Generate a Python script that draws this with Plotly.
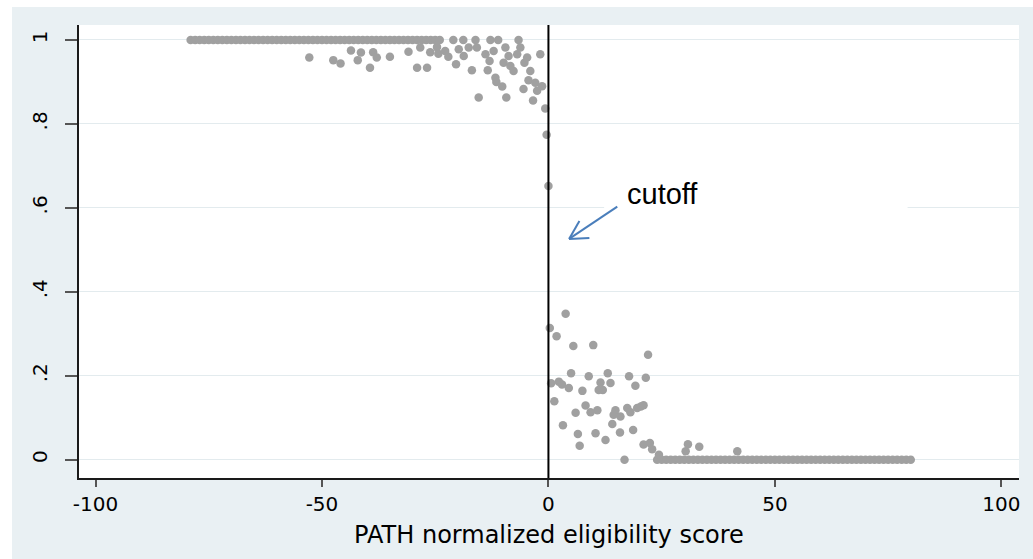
import plotly.graph_objects as go

# ---- data ----
top_dense_x = [-79, -78, -77, -76, -75, -74, -73, -72, -71, -70, -69, -68, -67, -66, -65,
               -64, -63, -62, -61, -60, -59, -58, -57, -56, -55, -54, -53, -52, -51, -50,
               -49, -48, -47, -46, -45, -44, -43, -42, -41, -40, -39, -38, -37, -36, -35,
               -34, -33, -32, -31, -30, -29, -28, -27, -26, -25, -24]
top_dense_y = [1.0] * len(top_dense_x)

bottom_dense_x = [24, 25, 26, 27, 28, 29, 30, 31, 32, 33, 34, 35, 36, 37, 38, 39, 40, 41, 42,
                  43, 44, 45, 46, 47, 48, 49, 50, 51, 52, 53, 54, 55, 56, 57, 58, 59, 60, 61,
                  62, 63, 64, 65, 66, 67, 68, 69, 70, 71, 72, 73, 74, 75, 76, 77, 78, 79, 80]
bottom_dense_y = [0.0] * len(bottom_dense_x)

left_x = [-52.8, -47.5, -45.9, -43.6, -42.1, -41.4, -39.4, -38.7, -37.9, -35.0,
          -30.9, -29.0, -28.3, -26.8, -26.1, -24.6, -24.3, -22.8, -22.1, -21.0,
          -20.4, -19.8, -18.8, -18.7, -17.6, -16.9, -16.1, -15.8, -15.4, -13.9,
          -13.4, -13.0, -12.8, -12.1, -11.7, -11.5, -11.1, -10.2, -9.9, -9.5,
          -9.3, -8.8, -8.4, -7.7, -6.9, -6.6, -6.2, -5.5, -5.3, -4.7,
          -4.4, -4.0, -3.4, -2.9, -2.5, -1.8, -1.4, -0.7, -0.4, 0.0]
left_y = [0.958, 0.952, 0.944, 0.975, 0.952, 0.970, 0.934, 0.971, 0.958, 0.960,
          0.972, 0.934, 0.982, 0.934, 0.971, 0.983, 0.967, 0.974, 0.960, 1.0,
          0.942, 0.978, 1.0, 0.962, 0.982, 0.928, 1.0, 0.982, 0.863, 0.966,
          0.928, 0.950, 1.0, 0.974, 0.910, 0.900, 1.0, 0.889, 0.946, 0.982,
          0.863, 0.962, 0.938, 0.926, 0.966, 1.0, 0.982, 0.883, 0.946, 0.958,
          0.904, 0.926, 0.856, 0.898, 0.879, 0.966, 0.890, 0.837, 0.774, 0.652]

right_x = [0.3, 1.8, 3.8, 5.5, 9.9, 22.0, 5.0, 8.9, 13.1, 17.8, 21.5,
           0.6, 2.3, 3.0, 4.5, 7.5, 11.5, 11.1, 12.0, 13.7, 19.2,
           1.3, 6.0, 8.2, 9.3, 10.8, 14.8, 14.4, 15.9, 14.1, 17.4,
           18.1, 19.6, 20.4, 21.0, 3.2, 6.5, 10.4, 15.8, 18.7,
           6.9, 12.6, 16.8, 21.0, 22.4, 22.9, 24.4, 30.3, 30.8, 33.3, 41.7]
right_y = [0.314, 0.294, 0.348, 0.271, 0.273, 0.250, 0.206, 0.199, 0.206, 0.199, 0.195,
           0.182, 0.186, 0.179, 0.171, 0.164, 0.184, 0.166, 0.166, 0.183, 0.176,
           0.139, 0.112, 0.129, 0.113, 0.118, 0.118, 0.107, 0.103, 0.085, 0.123,
           0.113, 0.123, 0.127, 0.130, 0.082, 0.061, 0.063, 0.065, 0.071,
           0.033, 0.047, 0.0, 0.036, 0.040, 0.025, 0.012, 0.020, 0.037, 0.031, 0.020]

x_ticks = [-100, -50, 0, 50, 100]
x_tick_labels = ["-100", "-50", "0", "50", "100"]
y_ticks = [0, 0.2, 0.4, 0.6, 0.8, 1.0]
y_tick_labels = ["0", ".2", ".4", ".6", ".8", "1"]
cutoff_value = 0
x_title = "PATH normalized eligibility score"
annotation_text = "cutoff"

# ---- figure ----
all_x = top_dense_x + left_x + right_x + bottom_dense_x
all_y = top_dense_y + left_y + right_y + bottom_dense_y

fig = go.Figure()
fig.add_trace(go.Scatter(
    x=all_x, y=all_y, mode="markers",
    marker=dict(color="#a0a0a0", size=8.5, line=dict(width=0)),
    hoverinfo="skip", showlegend=False,
))

tick_font = dict(family="DejaVu Sans", size=20, color="#000000")

fig.update_layout(
    width=1033, height=559,
    margin=dict(l=79, r=14, t=25, b=81),
    paper_bgcolor="#e9f0f3",
    plot_bgcolor="#ffffff",
    xaxis=dict(
        range=[-103.65, 103.9],
        tickvals=x_ticks, ticktext=x_tick_labels,
        ticks="outside", ticklen=7, tickwidth=1.5, tickcolor="#555555",
        tickfont=tick_font,
        showline=True, linecolor="#1a1a1a", linewidth=1.5,
        showgrid=False, zeroline=False, automargin=False,
        title=dict(text=x_title, font=dict(family="DejaVu Sans", size=24, color="#000000"),
                   standoff=11),
    ),
    yaxis=dict(
        range=[-0.0436, 1.0357],
        tickvals=y_ticks, ticktext=y_tick_labels,
        tickangle=-90,
        ticks="outside", ticklen=12, tickwidth=1.5, tickcolor="#555555",
        tickfont=tick_font, ticklabelstandoff=10,
        showline=True, linecolor="#1a1a1a", linewidth=1.5,
        showgrid=True, gridcolor="#e3ebee", gridwidth=1,
        zeroline=False, automargin=False,
    ),
)

# outer white strips (left / top) around the pale panel
fig.add_shape(type="rect", xref="paper", yref="paper",
              x0=-79 / 940, x1=-67 / 940, y0=-81 / 453, y1=1 + 25 / 453,
              fillcolor="#ffffff", line=dict(width=0), layer="above")
fig.add_shape(type="rect", xref="paper", yref="paper",
              x0=-79 / 940, x1=1 + 14 / 940, y0=1 + 18 / 453, y1=1 + 25 / 453,
              fillcolor="#ffffff", line=dict(width=0), layer="above")

# white text box behind "cutoff" (breaks the gridline)
fig.add_shape(type="rect", xref="x", yref="y",
              x0=12.3, x1=79.3, y0=0.575, y1=0.675,
              fillcolor="#ffffff", line=dict(width=0), layer="between")

# cutoff line
fig.add_shape(type="line", xref="x", yref="paper",
              x0=cutoff_value, x1=cutoff_value, y0=0, y1=1,
              line=dict(color="#000000", width=2), layer="above")

# arrow (open V head)
arrow_color = "#4a7ebb"
fig.add_shape(type="line", xref="x", yref="y", x0=15.2, y0=0.603, x1=4.56, y1=0.526,
              line=dict(color=arrow_color, width=2))
fig.add_shape(type="line", xref="x", yref="y", x0=4.56, y0=0.526, x1=6.84, y1=0.569,
              line=dict(color=arrow_color, width=2))
fig.add_shape(type="line", xref="x", yref="y", x0=4.56, y0=0.526, x1=9.04, y1=0.528,
              line=dict(color=arrow_color, width=2))

fig.add_annotation(x=25.1, y=0.633, xref="x", yref="y", text=annotation_text,
                   showarrow=False,
                   font=dict(family="Liberation Sans, Arial", size=29, color="#000000"))

fig.write_html("out.html", config={"displayModeBar": False},
               post_script="document.body.style.margin='0';document.body.style.padding='0';")
